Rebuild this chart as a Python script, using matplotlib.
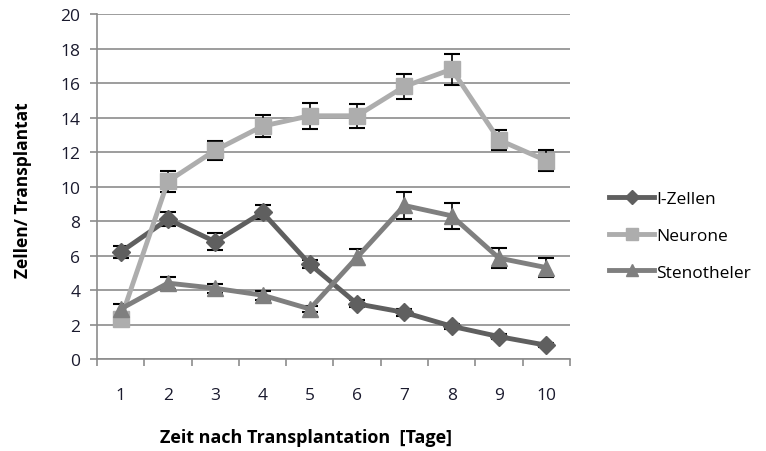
import matplotlib.pyplot as plt
import numpy as np

plt.rcParams["font.family"] = ["Open Sans", "DejaVu Sans"]

tage = [1, 2, 3, 4, 5, 6, 7, 8, 9, 10]

i_zellen = [6.2, 8.1, 6.8, 8.5, 5.5, 3.2, 2.7, 1.9, 1.3, 0.8]
i_zellen_err = [0.35, 0.4, 0.5, 0.4, 0.25, 0.2, 0.2, 0.15, 0.15, 0.1]

neurone = [2.3, 10.3, 12.1, 13.5, 14.1, 14.1, 15.8, 16.8, 12.7, 11.5]
neurone_err = [0.3, 0.6, 0.55, 0.65, 0.75, 0.7, 0.75, 0.9, 0.6, 0.6]

stenotheler = [2.9, 4.4, 4.1, 3.7, 2.9, 5.9, 8.9, 8.3, 5.85, 5.3]
stenotheler_err = [0.3, 0.35, 0.25, 0.25, 0.2, 0.45, 0.8, 0.75, 0.6, 0.55]

fig = plt.figure(figsize=(7.66, 4.52), dpi=100)
ax = fig.add_axes([0.1266, 0.2035, 0.6174, 0.7633])

series = [
    ("I-Zellen", i_zellen, i_zellen_err, "#5f5f5f", "D", 9),
    ("Neurone", neurone, neurone_err, "#adadad", "s", 11),
    ("Stenotheler", stenotheler, stenotheler_err, "#7f7f7f", "^", 11),
]

for name, vals, err, col, mk, ms in series:
    ax.errorbar(tage, vals, yerr=err, fmt="none", ecolor="black",
                elinewidth=1.2, capsize=5.5, capthick=1.5, zorder=2)
    ax.plot(tage, vals, color=col, lw=3.5, marker=mk, ms=ms,
            mec=col, mfc=col, label=name, zorder=3)

ax.set_xlim(0.5, 10.5)
ax.set_ylim(0, 20)
ax.set_yticks(np.arange(0, 21, 2))
ax.yaxis.grid(True, color="#8c8c8c", lw=1.2)
ax.set_axisbelow(True)

ax.set_xticks(tage)
ax.set_xticks(np.arange(0.5, 11, 1), minor=True)
ax.tick_params(axis="x", which="major", length=0, pad=20, labelsize=12.5,
               labelcolor="#1a1a2e")
ax.tick_params(axis="x", which="minor", length=5, color="#8c8c8c", width=1.2)
ax.tick_params(axis="y", length=5, color="#8c8c8c", width=1.2, pad=7,
               labelsize=12.5, labelcolor="#1a1a2e")

for side in ["top", "right"]:
    ax.spines[side].set_visible(False)
for side in ["left", "bottom"]:
    ax.spines[side].set_color("#8c8c8c")
    ax.spines[side].set_linewidth(1.2)

fig.text(0.03, 0.58, "Zellen/ Transplantat", rotation=90, ha="center",
         va="center", fontsize=12.5, fontweight="bold")
fig.text(0.4, 0.03, "Zeit nach Transplantation  [Tage]", ha="center",
         va="center", fontsize=13, fontweight="bold")

ax.legend(loc="center left", bbox_to_anchor=(1.05, 0.358), frameon=False,
          fontsize=12.5, handlelength=2.6, handletextpad=0.1,
          labelspacing=1.2, markerscale=0.8)

fig.savefig("out.png", dpi=100)
